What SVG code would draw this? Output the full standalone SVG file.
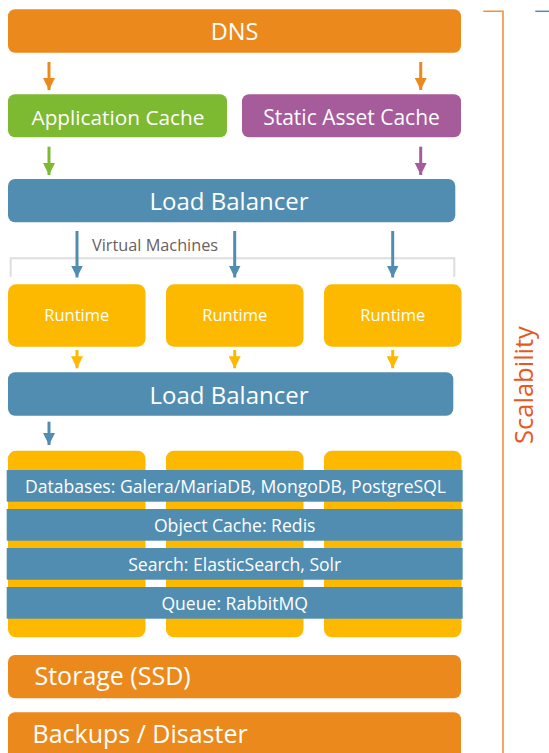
<svg xmlns="http://www.w3.org/2000/svg" width="549" height="753" viewBox="0 0 549 753">
<defs>
<style>
text{font-family:"Open Sans","Noto Sans","DejaVu Sans",sans-serif;fill:#fff}
.c{text-anchor:middle}
.or{fill:#EC891D}.gr{fill:#7DB931}.pu{fill:#A65B9B}.bl{fill:#518DB1}.ye{fill:#FCB900}
.arr{stroke-width:3;fill:none}
</style>
<marker id="hO" viewBox="0 0 12 12" refX="12" refY="6" markerWidth="12" markerHeight="12" markerUnits="userSpaceOnUse" orient="auto"><path d="M0,0L12,6L0,12z" fill="#EC891D"/></marker>
<marker id="hG" viewBox="0 0 12 12" refX="12" refY="6" markerWidth="12" markerHeight="12" markerUnits="userSpaceOnUse" orient="auto"><path d="M0,0L12,6L0,12z" fill="#7DB931"/></marker>
<marker id="hP" viewBox="0 0 12 12" refX="12" refY="6" markerWidth="12" markerHeight="12" markerUnits="userSpaceOnUse" orient="auto"><path d="M0,0L12,6L0,12z" fill="#A65B9B"/></marker>
<marker id="hB" viewBox="0 0 12 12" refX="12" refY="6" markerWidth="12" markerHeight="12" markerUnits="userSpaceOnUse" orient="auto"><path d="M0,0L12,6L0,12z" fill="#518DB1"/></marker>
<marker id="hY" viewBox="0 0 12 12" refX="12" refY="6" markerWidth="12" markerHeight="12" markerUnits="userSpaceOnUse" orient="auto"><path d="M0,0L12,6L0,12z" fill="#FCB900"/></marker>
</defs>

<g id="dns"><rect class="or" x="8" y="9.3" width="453" height="43.4" rx="7"/><text class="c" x="234.5" y="40" font-size="23.5">DNS</text></g>
<g id="app-cache"><rect class="gr" x="8" y="94.3" width="219" height="43" rx="7"/><text class="c" x="118" y="125" font-size="20.8">Application Cache</text></g>
<g id="static-cache"><rect class="pu" x="242" y="94.3" width="219" height="43" rx="7"/><text class="c" x="351.5" y="125" font-size="21">Static Asset Cache</text></g>
<g id="lb1"><rect class="bl" x="8" y="179" width="447.3" height="43.3" rx="7"/><text class="c" x="229" y="209.5" font-size="24">Load Balancer</text></g>

<g id="vm-label"><path d="M10.7,277V258.3H454.3V277" fill="none" stroke="#DEDEDE" stroke-width="2"/><text x="92" y="250.5" font-size="16.3" style="fill:#6A6060">Virtual Machines</text></g>

<g id="runtime1"><rect class="ye" x="8" y="284.3" width="137.5" height="62.4" rx="8"/><text class="c" x="76.75" y="320.7" font-size="16.5">Runtime</text></g>
<g id="runtime2"><rect class="ye" x="166" y="284.3" width="137.5" height="62.4" rx="8"/><text class="c" x="234.75" y="320.7" font-size="16.5">Runtime</text></g>
<g id="runtime3"><rect class="ye" x="324" y="284.3" width="137.5" height="62.4" rx="8"/><text class="c" x="392.75" y="320.7" font-size="16.5">Runtime</text></g>

<g id="lb2"><rect class="bl" x="8" y="372.3" width="445.3" height="43.4" rx="7"/><text class="c" x="229" y="403.5" font-size="24">Load Balancer</text></g>

<g id="vm1"><rect class="ye" x="8" y="450.7" width="137.5" height="186.6" rx="8"/></g>
<g id="vm2"><rect class="ye" x="166" y="450.7" width="137.5" height="186.6" rx="8"/></g>
<g id="vm3"><rect class="ye" x="324" y="450.7" width="137.5" height="186.6" rx="8"/></g>

<g id="databases"><rect class="bl" x="6.7" y="470" width="456" height="31.7"/><text class="c" x="235.5" y="492.5" font-size="17.6">Databases: Galera/MariaDB, MongoDB, PostgreSQL</text></g>
<g id="object-cache"><rect class="bl" x="6.7" y="509" width="456" height="31.7"/><text class="c" x="234.7" y="531.5" font-size="17.6">Object Cache: Redis</text></g>
<g id="search"><rect class="bl" x="6.7" y="548" width="456" height="31.7"/><text class="c" x="234.7" y="570.5" font-size="17.6">Search: ElasticSearch, Solr</text></g>
<g id="queue"><rect class="bl" x="6.7" y="587" width="456" height="31.7"/><text class="c" x="234.7" y="609.5" font-size="17.6">Queue: RabbitMQ</text></g>

<g id="storage"><rect class="or" x="8" y="655" width="453" height="43.3" rx="7"/><text x="34.5" y="685" font-size="25">Storage (SSD)</text></g>
<g id="backups"><rect class="or" x="8" y="712.3" width="453" height="50" rx="7"/><text x="32.5" y="743.3" font-size="25">Backups / Disaster</text></g>

<g id="scalability"><path d="M483.3,11.3H503V753" fill="none" stroke="#F0913A" stroke-width="1.6"/><line x1="535.3" y1="11.3" x2="549" y2="11.3" stroke="#518DB1" stroke-width="1.5"/><text class="c" transform="translate(533,385) rotate(-90)" font-size="25.5" style="fill:#E8581E">Scalability</text></g>

<g id="connectors">
<line class="arr" x1="49" y1="62" x2="49" y2="90" stroke="#EC891D" marker-end="url(#hO)"/>
<line class="arr" x1="420.7" y1="62" x2="420.7" y2="90" stroke="#EC891D" marker-end="url(#hO)"/>
<line class="arr" x1="49" y1="146.7" x2="49" y2="175" stroke="#7DB931" marker-end="url(#hG)"/>
<line class="arr" x1="420.7" y1="146.7" x2="420.7" y2="175" stroke="#A65B9B" marker-end="url(#hP)"/>
<line class="arr" x1="77" y1="231" x2="77" y2="277.5" stroke="#518DB1" marker-end="url(#hB)"/>
<line class="arr" x1="234.7" y1="231" x2="234.7" y2="277.5" stroke="#518DB1" marker-end="url(#hB)"/>
<line class="arr" x1="392.7" y1="231" x2="392.7" y2="277.5" stroke="#518DB1" marker-end="url(#hB)"/>
<line class="arr" x1="77" y1="350" x2="77" y2="368.3" stroke="#FCB900" marker-end="url(#hY)"/>
<line class="arr" x1="234.7" y1="350" x2="234.7" y2="368.3" stroke="#FCB900" marker-end="url(#hY)"/>
<line class="arr" x1="392.7" y1="350" x2="392.7" y2="368.3" stroke="#FCB900" marker-end="url(#hY)"/>
<line class="arr" x1="49" y1="421.7" x2="49" y2="445" stroke="#518DB1" marker-end="url(#hB)"/>
</g>
</svg>
